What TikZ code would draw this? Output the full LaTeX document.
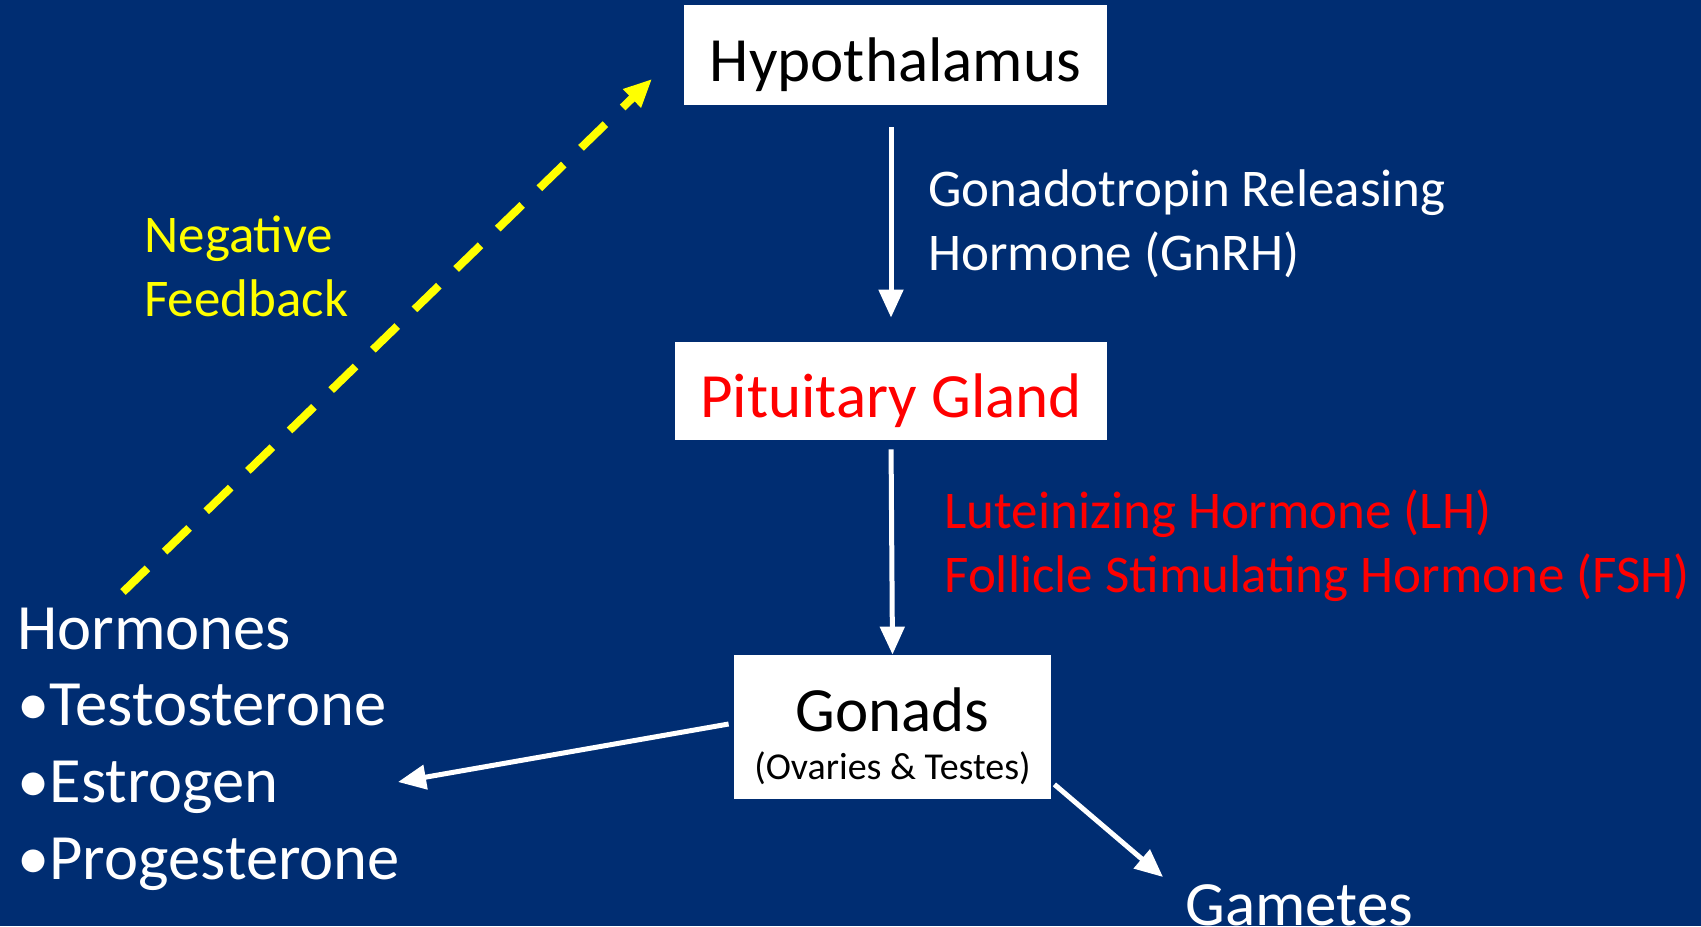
\documentclass[tikz,border=0pt]{standalone}
\usepackage{fontspec}
\setmainfont{Carlito}
\usetikzlibrary{arrows.meta}
\definecolor{slideblue}{HTML}{002D72}
\definecolor{glandred}{HTML}{FF0000}
\definecolor{fbyellow}{HTML}{FFFF00}
\newcommand{\boxstrut}[1]{\rule{0pt}{#1}}

\begin{document}
\begin{tikzpicture}[x=0.5pt,y=-0.5pt]
\tikzset{
  organbox/.style={rectangle,fill=white,inner sep=0pt,text=black,align=center},
  bigtext/.style={font=\fontsize{31.5}{38}\selectfont},
  labeltext/.style={anchor=west,align=left,inner sep=0pt,font=\fontsize{26.5}{32}\selectfont},
  hormarrow/.style={draw=white,line width=2.5pt,-{Triangle[length=14pt,width=12pt]}},
  feedback/.style={draw=fbyellow,line width=4pt,dash pattern=on 17pt off 12pt,-{Triangle[length=14pt,width=12pt]}}
}
\clip (0,0) rectangle (1701,926);
\fill[slideblue] (0,0) rectangle (1701,926);
\node[organbox,bigtext,minimum width=211.5pt,minimum height=50pt] (n_hypo) at (895.5,55) {\boxstrut{32pt}Hypothalamus};
\node[organbox,bigtext,text=glandred,minimum width=216pt,minimum height=49pt] (n_pit) at (891,391) {\boxstrut{32pt}Pituitary Gland};
\node[organbox,bigtext,minimum width=158.5pt,minimum height=72pt] (n_gon) at (892.5,727) {\boxstrut{31pt}Gonads\\[-14.3pt]{\fontsize{19}{22}\selectfont (Ovaries \& Testes)}};
\node[labeltext,text=white] (n_gnrh) at (928,224) {Gonadotropin Releasing\\Hormone (GnRH)};
\node[labeltext,text=glandred] (n_lhfsh) at (944,546) {Luteinizing Hormone (LH)\\Follicle Stimulating Hormone (FSH)};
\node[labeltext,text=fbyellow] (n_negfb) at (144,266) {Negative\\Feedback};
\node[anchor=west,align=left,inner sep=0pt,text=white,font=\fontsize{32.3}{38.3}\selectfont] (n_horm) at (17,749) {Hormones\\•Testosterone\\•Estrogen\\•Progesterone};
\node[anchor=west,inner sep=0pt,text=white,bigtext] (n_gam) at (1185,905) {Gametes};
\coordinate (c_hormtip) at (398,782);
\coordinate (c_gamtip) at (1163,877);
\coordinate (c_fbstart) at (123,592);
\coordinate (c_fbtip) at (652,79);
\draw[hormarrow,shorten <=11pt,shorten >=12pt] (n_pit.north |- n_hypo.south) -- (n_pit.north);
\draw[hormarrow,shorten <=4.5pt] (n_pit.south) -- (n_gon.north);
\draw[hormarrow] ([xshift=-2.5pt,yshift=1.5pt]n_gon.west) -- (c_hormtip);
\draw[hormarrow] ([xshift=1.5pt,yshift=7.5pt]n_gon.south east) -- (c_gamtip);
\draw[feedback] (c_fbstart) -- (c_fbtip);
\end{tikzpicture}
\end{document}
